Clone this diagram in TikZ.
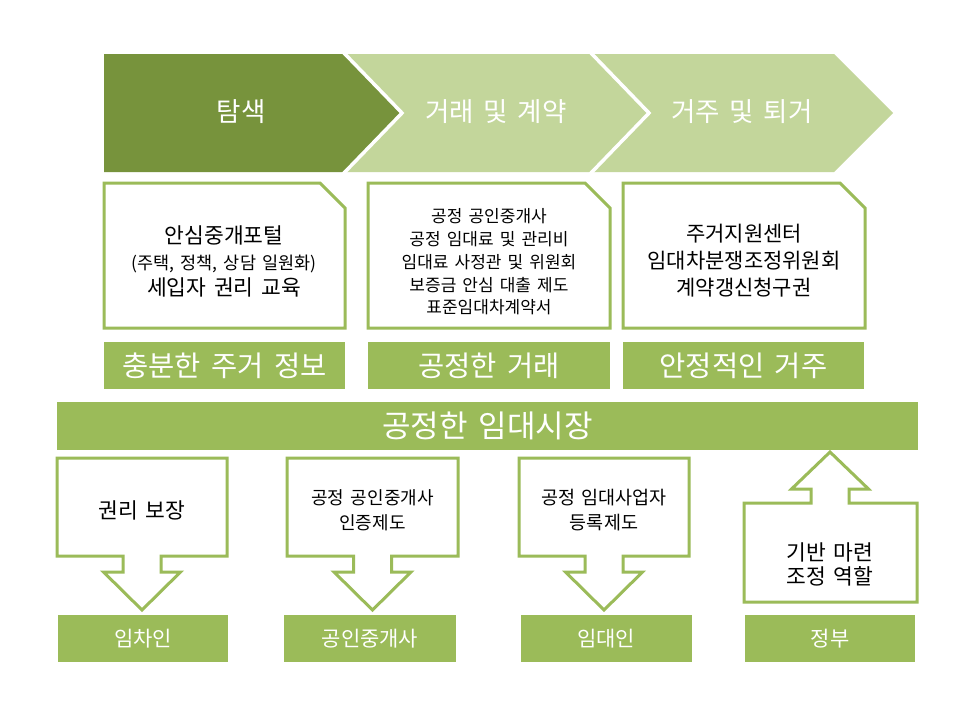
\documentclass[tikz,border=0pt]{standalone}
\usepackage{fontspec}
\setmainfont[WordSpace=1.6]{Noto Sans CJK KR}
\definecolor{gdark}{HTML}{77933C}
\definecolor{glight}{HTML}{C3D69B}
\definecolor{gmid}{HTML}{9BBB59}
\tikzset{
  chevdark/.style={fill=gdark},
  chevlight/.style={fill=glight},
  sep/.style={draw=white, line width=3.5pt},
  snipbox/.style={draw=gmid, line width=3pt, fill=white, line join=miter},
  arrowbox/.style={draw=gmid, line width=3pt, fill=white, line join=miter},
  lab/.style={fill=gmid, text=white, inner sep=0pt},
  chevtext/.style={text=white, font=\fontsize{26.5}{30}\selectfont},
  blacktext/.style={text=black, align=center, inner sep=0pt},
}
\begin{document}
\begin{tikzpicture}[x=1pt,y=-1pt]
\useasboundingbox (0,0) rectangle (960,720);
\fill[white] (0,0) rectangle (960,720);
% chevrons
\fill[chevdark] (104,54) -- (343,54) -- (402,113) -- (343,172) -- (104,172) -- cycle;
\fill[chevlight] (343,54) -- (590,54) -- (649,113) -- (590,172) -- (343,172) -- (402,113) -- cycle;
\fill[chevlight] (590,54) -- (834,54) -- (893,113) -- (834,172) -- (590,172) -- (649,113) -- cycle;
\draw[sep] (343,52) -- (402,113) -- (343,174);
\draw[sep] (590,52) -- (649,113) -- (590,174);
\node[chevtext] (c1) at (241,112) {탐색};
\node[chevtext] (c2) at (496,112) {거래 및 계약};
\node[chevtext] (c3) at (742,112) {거주 및 퇴거};
% snipped boxes
\draw[snipbox] (104,183) -- (320,183) -- (345,208) -- (345,328) -- (104,328) -- cycle;
\draw[snipbox] (368,183) -- (585,183) -- (610,208) -- (610,328) -- (368,328) -- cycle;
\draw[snipbox] (623,183) -- (840,183) -- (865,208) -- (865,328) -- (623,328) -- cycle;
\node[blacktext, font=\fontsize{21.5}{26}\selectfont] (t1) at (224,261)
  {안심중개포털\\{\fontsize{17.5}{26}\selectfont (주택, 정책, 상담 일원화)}\\세입자 권리 교육};
\node[blacktext, font=\fontsize{17}{22.8}\selectfont] (t2) at (489,262)
  {공정 공인중개사\\공정 임대료 및 관리비\\임대료 사정관 및 위원회\\보증금 안심 대출 제도\\표준임대차계약서};
\node[blacktext, font=\fontsize{21}{27}\selectfont] (t3) at (744,261)
  {주거지원센터\\임대차분쟁조정위원회\\계약갱신청구권};
% green labels
\node[lab, minimum width=241pt, minimum height=47pt, font=\fontsize{28.5}{32}\selectfont] (l1) at (224.5,365.5) {충분한 주거 정보};
\node[lab, minimum width=242pt, minimum height=47pt, font=\fontsize{28.5}{32}\selectfont] (l2) at (489,365.5) {공정한 거래};
\node[lab, minimum width=241pt, minimum height=47pt, font=\fontsize{28.5}{32}\selectfont] (l3) at (743.5,365.5) {안정적인 거주};
% bar
\node[lab, minimum width=861pt, minimum height=48pt, font=\fontsize{31}{34}\selectfont] (bar) at (487.5,426) {공정한 임대시장};
% block arrows
\draw[arrowbox] (57,458) -- (227,458) -- (227,556) -- (161,556) -- (161,572) -- (180.5,572) -- (142,610) -- (103.5,572) -- (123,572) -- (123,556) -- (57,556) -- cycle;
\draw[arrowbox] (287,458) -- (458,458) -- (458,556) -- (391.5,556) -- (391.5,572) -- (411,572) -- (372.5,610) -- (334,572) -- (353.5,572) -- (353.5,556) -- (287,556) -- cycle;
\draw[arrowbox] (519,458) -- (689,458) -- (689,556) -- (623,556) -- (623,572) -- (642.5,572) -- (604,610) -- (565.5,572) -- (585,572) -- (585,556) -- (519,556) -- cycle;
\draw[arrowbox] (744,602) -- (917,602) -- (917,503) -- (849,503) -- (849,489) -- (868.5,489) -- (830,452) -- (791.5,489) -- (811,489) -- (811,503) -- (744,503) -- cycle;
\node[blacktext, font=\fontsize{21.5}{26}\selectfont] (a1) at (142,510) {권리 보장};
\node[blacktext, font=\fontsize{18}{25}\selectfont] (a2) at (372.5,510) {공정 공인중개사\\인증제도};
\node[blacktext, font=\fontsize{18.5}{25}\selectfont] (a3) at (604,510) {공정 임대사업자\\등록제도};
\node[blacktext, font=\fontsize{21.5}{24}\selectfont] (a4) at (830,564) {기반 마련\\조정 역할};
% bottom labels
\node[lab, minimum width=170pt, minimum height=47pt, font=\fontsize{21}{24}\selectfont] (b1) at (143,638.5) {임차인};
\node[lab, minimum width=172pt, minimum height=47pt, font=\fontsize{21}{24}\selectfont] (b2) at (370,638.5) {공인중개사};
\node[lab, minimum width=171pt, minimum height=47pt, font=\fontsize{21}{24}\selectfont] (b3) at (606,638.5) {임대인};
\node[lab, minimum width=170pt, minimum height=47pt, font=\fontsize{21}{24}\selectfont] (b4) at (830,638.5) {정부};
\end{tikzpicture}
\end{document}
